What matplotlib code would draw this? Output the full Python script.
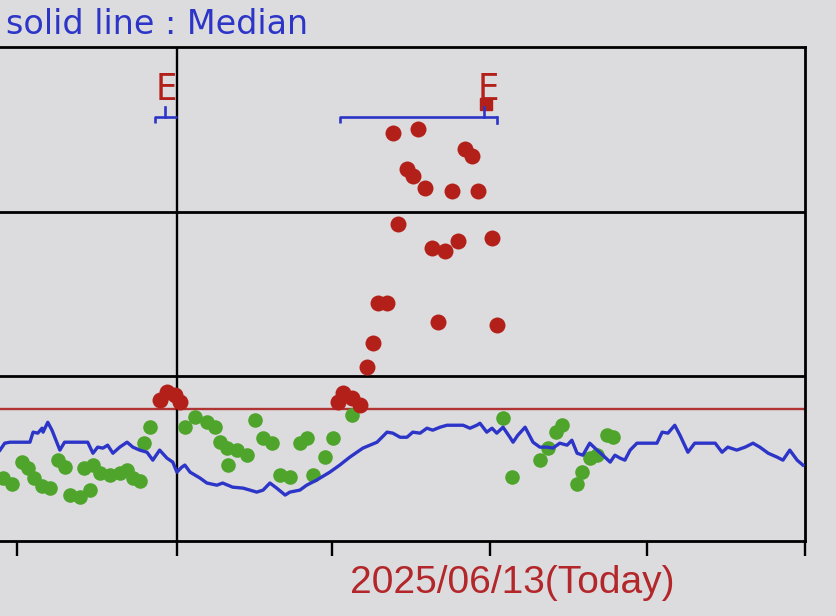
import matplotlib
matplotlib.use("Agg")
import matplotlib.pyplot as plt

# ---- data (days relative to today, values on chart scale) ----
med_day = [-93.3, -92.4, -91.4, -87.6, -87.0, -86.1, -85.3, -85.1, -84.2, -83.4, -81.9, -81.0,
           -76.6, -75.6, -74.7, -73.7, -72.8, -71.8, -70.5, -69.1, -68.0, -66.7, -65.3, -64.2,
           -62.9, -61.5, -60.4, -59.6, -58.7, -58.1, -57.1, -55.2, -53.9, -52.0, -50.9, -49.0,
           -47.0, -45.7, -44.4, -43.2, -41.9, -40.6, -39.0, -38.1, -36.2, -34.9, -33.0, -30.5,
           -28.6, -26.7, -24.2, -21.5, -19.6, -18.5, -17.1, -15.8, -14.7, -13.3, -12.0, -10.9,
           -9.5, -8.2, -5.1, -3.8, -2.5, -1.9, -0.6, 0.4, 1.3, 2.5, 3.8, 4.4, 5.3, 6.7, 8.2,
           9.5, 10.9, 12.0, 13.3, 14.7, 15.6, 16.6, 17.7, 19.0, 20.4, 21.5, 22.9, 23.8, 24.8,
           25.7, 26.7, 28.0, 31.8, 32.8, 33.9, 35.2, 36.2, 37.7, 39.0, 42.9, 44.2, 45.3, 47.0,
           48.6, 50.1, 51.4, 53.0, 54.7, 55.8, 57.1, 58.5, 59.6]
med_val = [55.2, 59.4, 60.0, 60.0, 66.1, 65.5, 68.5, 66.1, 72.1, 67.3, 55.2, 60.0,
           60.0, 53.3, 57.0, 56.4, 58.2, 53.3, 57.0, 60.0, 57.0, 55.2, 53.9, 49.1,
           55.2, 50.3, 47.9, 41.8, 44.8, 46.1, 41.8, 38.2, 35.2, 33.9, 35.2, 32.7,
           32.1, 30.9, 29.7, 30.9, 35.2, 32.1, 27.9, 29.7, 30.9, 33.9, 37.0, 41.8,
           46.1, 50.9, 56.4, 60.0, 66.1, 65.5, 63.0, 63.0, 66.1, 65.5, 68.5, 67.3,
           69.1, 70.3, 70.3, 68.5, 70.3, 71.5, 66.1, 68.5, 65.5, 69.1, 63.0, 60.0, 64.2, 69.1, 60.0,
           57.0, 57.0, 56.4, 59.4, 58.2, 61.2, 53.3, 52.1, 59.4, 55.2, 52.1, 47.9, 52.1, 50.3,
           49.1, 55.2, 59.4, 59.4, 66.1, 65.5, 70.3, 64.2, 53.9, 59.4, 59.4, 53.9, 57.0, 55.2,
           57.0, 59.4, 57.0, 53.3, 50.9, 49.1, 55.2, 49.1, 46.1]

green_day = [-92.8, -91.0, -89.1, -88.0, -86.9, -85.3, -83.8, -82.3, -81.0, -80.0, -78.1, -76.2,
             -77.3, -75.6, -74.3, -72.4, -70.5, -69.1, -68.0, -66.7, -64.8, -65.9,
             -58.1, -56.2, -53.9, -52.4, -51.4, -50.1, -48.2, -46.3, -49.9, -44.8, -43.2, -41.5,
             -40.0, -38.1, -36.2, -34.9, -33.7, -31.4, -29.9, -26.3,
             2.5, 4.2, 9.5, 11.0, 12.6, 13.7, 16.6, 17.5, 19.0, 20.4, 22.3, 23.4]
green_val = [38.2, 34.5, 47.9, 44.2, 38.2, 33.3, 32.1, 49.1, 44.8, 27.9, 26.7, 30.9,
             44.2, 46.1, 41.2, 40.0, 41.2, 43.0, 38.2, 36.4, 69.1, 59.4,
             69.1, 75.2, 72.1, 69.1, 60.0, 56.4, 55.2, 52.1, 46.1, 73.3, 62.4, 59.4,
             40.0, 38.8, 59.4, 62.4, 40.0, 50.9, 62.4, 76.4,
             74.5, 38.8, 49.1, 56.4, 66.1, 70.3, 34.5, 41.8, 50.3, 52.1, 64.2, 63.0]

red_day = [-62.9, -61.5, -60.0, -59.0,
           -29.0, -28.0, -26.3, -24.8,
           -23.4, -22.3, -21.3, -19.6,
           -17.5, -18.5, -15.8, -14.7, -12.4, -13.7, -4.8, -3.4, -7.2, -2.3,
           -11.0, -8.6, -6.1, 0.4, -9.9, 1.3]
red_val = [85.5, 90.3, 88.5, 84.2,
           84.2, 89.7, 86.7, 82.4,
           105.5, 120.0, 144.8, 144.8,
           192.7, 247.9, 226.1, 221.8, 214.5, 250.3, 238.2, 233.9, 212.7, 212.7,
           178.2, 176.4, 182.4, 184.2, 132.7, 130.9]

threshold = 80
grid_levels = [100, 200]
tick_days = [-90, -59.6, -30, 0, 30, 60]
today_line = -59.6
event_start = [-63.8, -28.6]
event_end = [-59.6, 1.3]
event_mark = [-61.9, -1.1]
e_day = [-61.7, -0.3]

title_text = "solid line : Median"
today_text = "2025/06/13(Today)"

# ---- styling ----
BG = "#dcdcde"
BLUE = "#2d35c8"
GREEN = "#4fa52c"
RED = "#b3201a"
REDLINE = "#b03434"

fig = plt.figure(figsize=(8.36, 6.16), dpi=100, facecolor=BG)
ax = fig.add_axes([0.0, 1 - 541 / 616, 805 / 836, (541 - 47) / 616])
ax.set_facecolor(BG)
ax.set_xlim(-93.3, 60.0)
ax.set_ylim(0, 300)

for g in grid_levels:
    ax.axhline(g, color="black", lw=2.0, zorder=1)
ax.axhline(threshold, color=REDLINE, lw=1.7, zorder=1)
ax.axvline(today_line, color="black", lw=1.7, zorder=1)

ax.plot(green_day, green_val, "o", ms=10.5, color=GREEN, mec="none", zorder=2)
ax.plot(med_day, med_val, "-", color=BLUE, lw=2.4, zorder=3)
ax.plot(red_day, red_val, "o", ms=11.5, color=RED, mec="none", zorder=4)

# event brackets
y_b = 257.6
for s, e, m in zip(event_start, event_end, event_mark):
    ax.plot([s, s, e], [254.0, y_b, y_b], color=BLUE, lw=1.9, zorder=3, solid_capstyle="butt")
    ax.plot([m, m], [y_b, 263.6], color=BLUE, lw=1.9, zorder=3)
ax.plot([event_end[1], event_end[1]], [y_b, 254.0], color=BLUE, lw=1.9, zorder=3)
ax.plot([event_mark[1] + 0.4], [265.5], marker="s", ms=8.5, color=RED, zorder=2)
for d in e_day:
    ax.text(d, 268.0, "E", color=RED, fontsize=27, fontstretch="condensed",
            family="DejaVu Sans", ha="center", va="baseline")

for side in ["top", "right", "bottom"]:
    ax.spines[side].set_color("black")
    ax.spines[side].set_linewidth(2.0)
ax.spines["left"].set_visible(False)
ax.set_xticks(tick_days)
ax.set_xticklabels([])
ax.set_yticks([])
ax.tick_params(axis="x", direction="out", length=11, width=1.7, color="black")

fig.text(6 / 836, 1 - 34 / 616, title_text, color=BLUE, fontsize=24,
         family="DejaVu Sans", ha="left", va="baseline")
fig.text(512 / 836, 1 - 593 / 616, today_text, color="#b3262a", fontsize=28,
         family="Liberation Sans", ha="center", va="baseline")

fig.savefig("out.png", dpi=100, facecolor=BG)
